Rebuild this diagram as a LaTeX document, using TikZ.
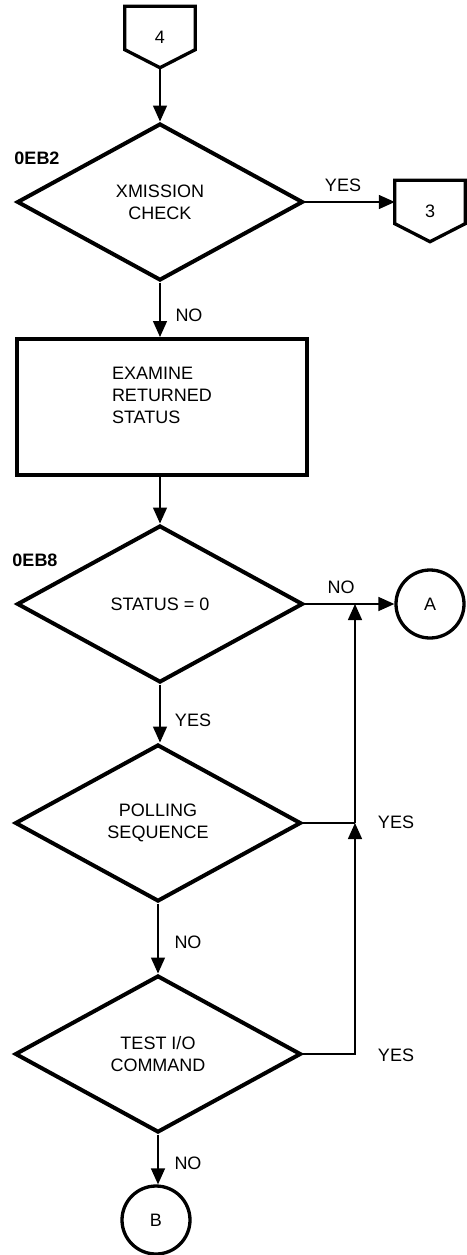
\documentclass[tikz,border=0pt]{standalone}
\usepackage{fontspec}
\setmainfont{Liberation Sans}
\usetikzlibrary{shapes.geometric,arrows.meta}

\begin{document}
\begin{tikzpicture}[x=1pt, y=-1pt, >={Triangle[length=16pt,width=14pt]},
    font=\fontsize{18}{22}\selectfont,
    decision/.style={diamond, draw, line width=4pt, minimum width=286pt,
        minimum height=157pt, inner sep=0pt, align=center},
    process/.style={rectangle, draw, line width=4pt, minimum width=290pt,
        minimum height=136pt},
    connector/.style={circle, draw, line width=3.3pt, minimum size=68pt, inner sep=0pt},
    offpage/.style={rectangle, minimum width=70pt, minimum height=61pt, inner sep=0pt},
    pagebox/.style={line width=3.3pt},
    flow/.style={line width=1.4pt},
    addr/.style={font=\fontsize{18}{22}\selectfont\bfseries}]
    \useasboundingbox (0,0) rectangle (466,1255);

    % shapes
    \node[offpage] (p4) at (160,37) {4};
    \node[decision] (xmit) at (160,202) {XMISSION\\CHECK};
    \node[offpage] (p3) at (430,211) {3};
    \node[process] (exam) at (162,407) {};
    \node[align=left] (examtxt) at ([yshift=12pt]exam.center) {EXAMINE\\RETURNED\\STATUS};
    \node[decision] (stat) at (160,604) {STATUS = 0};
    \node[connector] (A) at (430,604) {A};
    \node[decision] (poll) at (158,823) {POLLING\\SEQUENCE};
    \node[decision] (tio) at (158,1054) {TEST I/O\\COMMAND};
    \node[connector] (B) at (156,1220) {B};

    \foreach \p in {p4,p3} {
        \draw[pagebox] (\p.north west) -- (\p.north east) -- ([yshift=18pt]\p.south east)
            -- (\p.south) -- ([yshift=18pt]\p.south west) -- cycle;
    }

    % addresses
    \node[addr] (a1) at (37,158) {0EB2};
    \node[addr] (a2) at (35,560) {0EB8};

    % flow lines
    \coordinate (rx) at (355,0);
    \coordinate (jB) at (stat.east -| rx);
    \coordinate (jA) at (poll.east -| rx);

    \draw[flow,->] (p4.south) -- (xmit.north);
    \draw[flow,->] (xmit.east) -- (xmit.east -| p3.west);
    \draw[flow,->] (xmit.south) -- (xmit.south |- exam.north);
    \draw[flow,->] (exam.south -| stat.north) -- (stat.north);
    \draw[flow,->] (stat.east) -- (A);
    \draw[flow,->] (stat.south) -- (stat.south |- poll.north);
    \draw[flow,->] (poll.south) -- (tio.north);
    \draw[flow,->] (tio.south) -- (tio.south |- B.north);
    \draw[flow,->] (tio.east) -| (jA);
    \draw[flow] (poll.east) -- (jA);
    \draw[flow,->] (jA) -- (jB);

    % branch labels
    \node (y1) at (343,185) {YES};
    \node (n1) at (189,315) {NO};
    \node (n2) at (341,587) {NO};
    \node (y2) at (193,720) {YES};
    \node (y3) at (396,822) {YES};
    \node (n3) at (188,942) {NO};
    \node (y4) at (396,1055) {YES};
    \node (n4) at (188,1163) {NO};
\end{tikzpicture}
\end{document}
